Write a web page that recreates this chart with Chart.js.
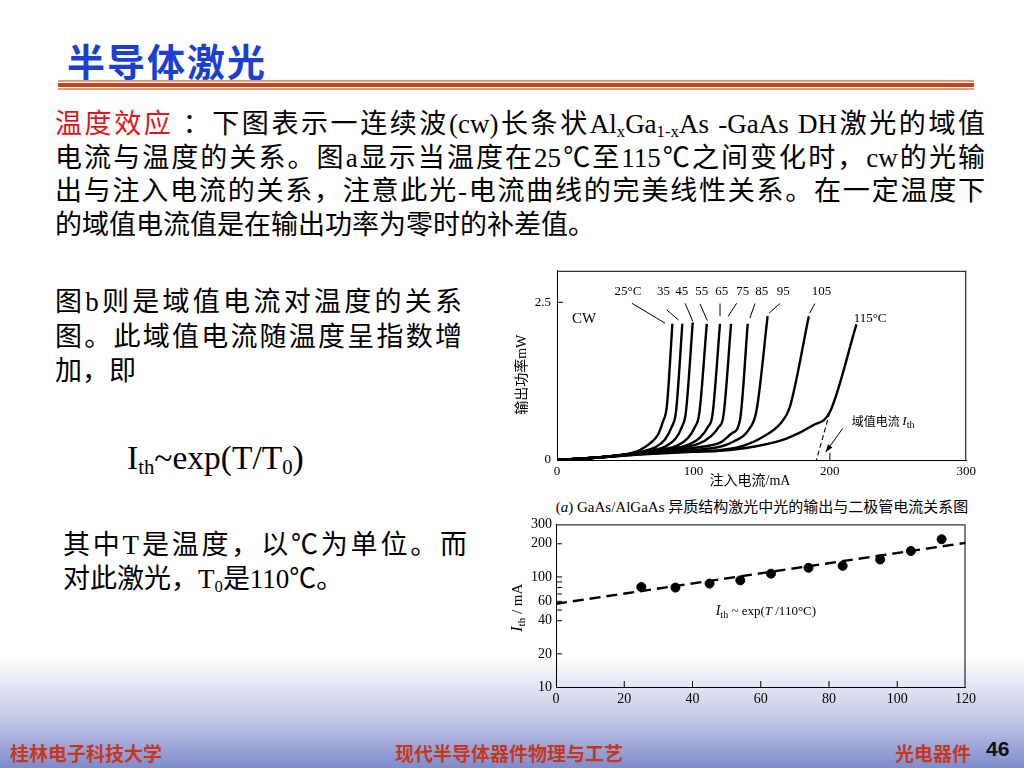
<!DOCTYPE html>
<html>
<head>
<meta charset="utf-8">
<script src="https://cdn.jsdelivr.net/npm/chart.js@4.4.0/dist/chart.umd.min.js"></script>
<style>
  body { margin: 0; }
  #slide {
    position: relative; width: 1024px; height: 768px; overflow: hidden;
    background: #fff; color: #000;
    font-family: "Liberation Serif", "Noto Sans CJK SC", serif;
  }
  .band {
    position: absolute; left: 0; top: 655px; width: 1024px; height: 113px;
    background: linear-gradient(to bottom, rgba(255,255,255,0) 0%, #c6cae7 55%, #7f8bcc 100%);
  }
  .title {
    position: absolute; left: 67px; top: 32px; font-size: 38px; font-weight: bold;
    color: #1c3fd2; letter-spacing: 2px; font-family: "Noto Sans CJK SC", sans-serif;
  }
  .rule { position: absolute; left: 58px; width: 916px; }
  .para { position: absolute; font-size: 27px; }
  .para div { height: 33.6px; line-height: 33.6px; white-space: nowrap; }
  .para .j { text-align: justify; text-align-last: justify; white-space: normal; }
  .red { color: #e0141e; }
  sub { font-size: 0.62em; vertical-align: -0.25em; line-height: 0; }
  .formula { position: absolute; left: 127px; top: 439px; font-size: 33.5px; white-space: nowrap; }
  .caption { position: absolute; left: 552px; top: 495px; width: 420px; text-align: center; font-size: 15px; white-space: nowrap; }
  canvas { position: absolute; }
  .foot { position: absolute; top: 739px; font-size: 19px; font-weight: bold; color: #c5371b;
    font-family: "Noto Sans CJK SC", sans-serif; }
</style>
</head>
<body>
<div id="slide">
  <div class="band"></div>
  <div class="title">半导体激光</div>
  <div class="rule" style="top:80px;height:2px;background:#e39a78"></div>
  <div class="rule" style="top:83px;height:4px;background:#c2441d"></div>
  <div class="rule" style="top:88px;height:2px;background:#e39a78"></div>

  <div class="para" style="left:55px;top:108px;width:930px">
    <div class="j"><span class="red">温度效应</span> ：下图表示一连续波(cw)长条状Al<sub>x</sub>Ga<sub>1-x</sub>As -GaAs DH激光的域值</div>
    <div class="j">电流与温度的关系。图a显示当温度在25℃至115℃之间变化时，cw的光输</div>
    <div class="j">出与注入电流的关系，注意此光-电流曲线的完美线性关系。在一定温度下</div>
    <div>的域值电流值是在输出功率为零时的补差值。</div>
  </div>

  <div class="para" style="left:55px;top:284px;width:407px">
    <div class="j" style="height:36px;line-height:36px">图b则是域值电流对温度的关系</div>
    <div class="j" style="height:34px;line-height:34px">图。此域值电流随温度呈指数增</div>
    <div style="height:34px;line-height:34px">加，即</div>
  </div>

  <div class="formula">I<sub>th</sub>~exp(T/T<sub>0</sub>)</div>

  <div class="para" style="left:63px;top:529px;width:404px">
    <div class="j">其中T是温度，以℃为单位。而</div>
    <div>对此激光，T<sub>0</sub>是110℃。</div>
  </div>

  <canvas id="lcChart" width="480" height="234" style="left:500px;top:257px"></canvas>
  <div class="caption">(<i>a</i>) GaAs/AlGaAs 异质结构激光中光的输出与二极管电流关系图</div>
  <canvas id="ithChart" width="480" height="203" style="left:500px;top:512px"></canvas>

  <div class="foot" style="left:10px">桂林电子科技大学</div>
  <div class="foot" style="left:395px">现代半导体器件物理与工艺</div>
  <div class="foot" style="left:895px">光电器件</div>
  <div class="foot" style="left:986px;color:#111;font-size:21px;font-family:'Liberation Sans Narrow','Liberation Sans',sans-serif;top:737px">46</div>
</div>

<script>
// (a) light output vs injected current, one curve per temperature [mA, mW]
const lcTemps = ["25", "35", "45", "55", "65", "75", "85", "95", "105", "115"];
const lc25 = [[0, 0], [30, 0.04], [50, 0.09], [60, 0.15], [68, 0.26], [74, 0.4], [77.5, 0.6], [80.5, 0.85], [84.6, 2.16]];
const lc35 = [[0, 0], [30, 0.04], [55, 0.1], [65, 0.15], [72, 0.2], [79, 0.32], [84, 0.52], [87.3, 0.78], [91.9, 2.16]];
const lc45 = [[0, 0], [30, 0.04], [60, 0.11], [72, 0.16], [80, 0.22], [87, 0.34], [91.5, 0.52], [94.5, 0.76], [99.5, 2.18]];
const lc55 = [[0, 0], [30, 0.04], [60, 0.11], [78, 0.17], [88, 0.23], [96, 0.35], [101, 0.52], [104.3, 0.74], [109.8, 2.16]];
const lc65 = [[0, 0], [30, 0.04], [60, 0.11], [84, 0.18], [96, 0.24], [105, 0.36], [110.5, 0.52], [114, 0.72], [119.5, 2.16]];
const lc75 = [[0, 0], [30, 0.04], [60, 0.11], [88, 0.19], [103, 0.25], [113, 0.38], [118.5, 0.52], [122, 0.7], [127.6, 2.16]];
const lc85 = [[0, 0], [30, 0.04], [60, 0.11], [95, 0.18], [112, 0.23], [120, 0.28], [128, 0.42], [134.1, 0.63], [139.8, 2.16]];
const lc95 = [[0, 0], [30, 0.04], [60, 0.1], [100, 0.16], [119.5, 0.21], [129.2, 0.29], [140.2, 0.47], [146.3, 0.79], [154.4, 2.28]];
const lc105 = [[0, 0], [30, 0.04], [60, 0.09], [100, 0.14], [119.5, 0.157], [134.1, 0.21], [151.1, 0.37], [164.6, 0.6], [170.7, 0.84], [184.6, 2.28]];
const lc115 = [[0, 0], [30, 0.04], [60, 0.085], [100, 0.13], [119.5, 0.146], [143.8, 0.21], [168.2, 0.34], [187.7, 0.55], [200, 0.76], [219.5, 2.15]];
const lcCurves = [lc25, lc35, lc45, lc55, lc65, lc75, lc85, lc95, lc105, lc115];
// threshold extrapolation of the 115 C curve
const ithExtrap = [[200, 0.76], [190.2, 0]];
const lcXTicks = [0, 100, 200, 300];
const lcYTicks = [0, 2.5];

// (b) threshold current vs temperature
const ithTemps = [25, 35, 45, 54, 63, 74, 84, 95, 104, 113];
const ithValues = [81, 80, 87, 93, 107, 121, 126, 144, 172, 220];
const fitTemps = [0, 120];
const fitValues = [57, 204];
const ithXTicks = [0, 20, 40, 60, 80, 100, 120];
const ithYTicks = [10, 20, 40, 60, 100, 200, 300];
const ithMinorTicks = [50, 70, 80, 90];

// label placement for curve tags (data coordinates)
const tagLayout = [
  { x: 52, y: 2.67, from: [54.9, 2.485], to: [79.2, 2.17] },
  { x: 78, y: 2.67, from: [80.5, 2.38], to: [89.0, 2.22] },
  { x: 91.4, y: 2.67, from: [93.9, 2.485], to: [99.5, 2.2] },
  { x: 106.1, y: 2.67, from: [104.8, 2.476], to: [110.2, 2.21] },
  { x: 120.7, y: 2.67, from: [119.5, 2.48], to: [119.5, 2.28] },
  { x: 136.1, y: 2.67, from: [131.7, 2.485], to: [125.5, 2.28] },
  { x: 150, y: 2.67, from: [145.1, 2.48], to: [141.4, 2.25] },
  { x: 165.8, y: 2.67, from: [163.4, 2.48], to: [155.5, 2.33] },
  { x: 193.9, y: 2.67, from: [189, 2.48], to: [185.3, 2.33] },
  { x: 229.5, y: 2.25 },
];

const serif = "'Liberation Serif', 'Noto Sans CJK SC', serif";
const toXY = (pts) => pts.map((p) => ({ x: p[0], y: p[1] }));

function drawFrame(ctx, area) {
  ctx.save();
  ctx.strokeStyle = "#000";
  ctx.lineWidth = 1;
  ctx.strokeRect(area.left + 0.5, area.top + 0.5, area.width - 1, area.height);
  ctx.restore();
}

// draw text pieces [text, font, dy] one after another
function drawRuns(ctx, runs, x, y) {
  let cx = x;
  runs.forEach((r) => {
    ctx.font = r[1];
    ctx.fillText(r[0], cx, y + (r[2] || 0));
    cx += ctx.measureText(r[0]).width;
  });
  return cx - x;
}

function runsWidth(ctx, runs) {
  let w = 0;
  runs.forEach((r) => {
    ctx.font = r[1];
    w += ctx.measureText(r[0]).width;
  });
  return w;
}

const lcDecor = {
  id: "lcDecor",
  afterDraw(chart) {
    const { ctx, chartArea, scales } = chart;
    const px = (v) => scales.x.getPixelForValue(v);
    const py = (v) => scales.y.getPixelForValue(v);
    drawFrame(ctx, chartArea);
    ctx.save();
    ctx.fillStyle = "#000";
    ctx.strokeStyle = "#000";
    // inward ticks
    ctx.lineWidth = 1;
    ctx.beginPath();
    ctx.moveTo(chartArea.left, py(2.5));
    ctx.lineTo(chartArea.left + 6, py(2.5));
    ctx.moveTo(px(200), chartArea.bottom);
    ctx.lineTo(px(200), chartArea.bottom - 7);
    ctx.stroke();

    // curve tags and leaders
    ctx.textBaseline = "middle";
    ctx.font = "13px " + serif;
    tagLayout.forEach((t, i) => {
      let txt = lcTemps[i];
      if (i === 0 || i === lcTemps.length - 1) txt += "°C";
      ctx.textAlign = "center";
      ctx.fillText(txt, px(t.x), py(t.y));
      if (t.from) {
        ctx.beginPath();
        ctx.moveTo(px(t.from[0]), py(t.from[1]));
        ctx.lineTo(px(t.to[0]), py(t.to[1]));
        ctx.stroke();
      }
    });
    ctx.textAlign = "left";
    ctx.font = "15px " + serif;
    ctx.fillText("CW", px(11), py(2.23));

    // threshold label and arrow
    const lx = px(216), ly = py(0.61);
    drawRuns(ctx, [
      ["域值电流 ", "12px 'Noto Sans CJK SC', sans-serif"],
      ["I", "italic 13px " + serif],
      ["th", "10px " + serif, 4],
    ], lx, ly);
    const ax0 = px(209.4), ay0 = py(0.5), ax1 = px(197), ay1 = py(0.126);
    ctx.beginPath();
    ctx.moveTo(ax0, ay0);
    ctx.lineTo(ax1, ay1);
    ctx.stroke();
    const ang = Math.atan2(ay1 - ay0, ax1 - ax0);
    ctx.beginPath();
    ctx.moveTo(ax1, ay1);
    ctx.lineTo(ax1 - 8 * Math.cos(ang - 0.35), ay1 - 8 * Math.sin(ang - 0.35));
    ctx.lineTo(ax1 - 8 * Math.cos(ang + 0.35), ay1 - 8 * Math.sin(ang + 0.35));
    ctx.closePath();
    ctx.fill();

    // axis titles
    ctx.font = "14px " + serif;
    ctx.textAlign = "center";
    ctx.fillText("注入电流/mA", chartArea.left + 193, chartArea.bottom + 21);
    ctx.translate(chartArea.left - 35, chartArea.top + 104);
    ctx.rotate(-Math.PI / 2);
    ctx.fillText("输出功率mW", 0, 0);
    ctx.restore();
  },
};

const ithDecor = {
  id: "ithDecor",
  afterDraw(chart) {
    const { ctx, chartArea, scales } = chart;
    const px = (v) => scales.x.getPixelForValue(v);
    const py = (v) => scales.y.getPixelForValue(v);
    drawFrame(ctx, chartArea);
    ctx.save();
    ctx.strokeStyle = "#000";
    ctx.fillStyle = "#000";
    ctx.lineWidth = 1;
    ctx.beginPath();
    ithXTicks.slice(1, -1).forEach((v) => {
      ctx.moveTo(px(v), chartArea.bottom);
      ctx.lineTo(px(v), chartArea.bottom - 6);
    });
    ithYTicks.slice(1, -1).forEach((v) => {
      ctx.moveTo(chartArea.left, py(v));
      ctx.lineTo(chartArea.left + 6, py(v));
    });
    ithMinorTicks.forEach((v) => {
      ctx.moveTo(chartArea.left, py(v));
      ctx.lineTo(chartArea.left + 6, py(v));
    });
    ctx.stroke();

    ctx.textBaseline = "middle";
    ctx.textAlign = "left";
    drawRuns(ctx, [
      ["I", "italic 14px " + serif],
      ["th", "10px " + serif, 4],
      [" ~ exp(", "13px " + serif],
      ["T", "italic 13px " + serif],
      [" /110°C)", "13px " + serif],
    ], px(46.8), py(48.8));

    // rotated y title
    const runs = [
      ["I", "italic 16px " + serif],
      ["th", "11px " + serif, 4],
      [" / mA", "15px " + serif],
    ];
    ctx.translate(chartArea.left - 38, (chartArea.top + chartArea.bottom) / 2 + 2);
    ctx.rotate(-Math.PI / 2);
    drawRuns(ctx, runs, -runsWidth(ctx, runs) / 2, 0);
    ctx.restore();
  },
};

const tickFont = { family: serif, size: 13 };

new Chart(document.getElementById("lcChart"), {
  type: "line",
  data: {
    datasets: lcCurves.map((c, i) => ({
      label: lcTemps[i],
      data: toXY(c),
      borderColor: "#000",
      borderWidth: 2.4,
      pointRadius: 0,
      cubicInterpolationMode: "monotone",
    })).concat([{
      label: "Ith",
      data: toXY(ithExtrap),
      borderColor: "#000",
      borderWidth: 1.1,
      borderDash: [5, 3],
      pointRadius: 0,
    }]),
  },
  options: {
    responsive: false,
    animation: false,
    layout: { padding: { left: 0, right: 13, top: 0, bottom: 0 } },
    plugins: { legend: { display: false }, tooltip: { enabled: false } },
    scales: {
      x: {
        type: "linear", min: 0, max: 300,
        afterBuildTicks: (s) => { s.ticks = lcXTicks.map((v) => ({ value: v })); },
        afterFit: (s) => { s.height = 31; },
        grid: { display: false, drawTicks: false },
        border: { color: "#000", width: 1 },
        ticks: { color: "#000", font: tickFont, padding: 4, maxRotation: 0 },
      },
      y: {
        min: 0, max: 3,
        afterBuildTicks: (s) => { s.ticks = lcYTicks.map((v) => ({ value: v })); },
        afterFit: (s) => { s.width = 57; },
        grid: { display: false, drawTicks: false },
        border: { color: "#000", width: 1 },
        ticks: { color: "#000", font: tickFont, padding: 6 },
      },
    },
  },
  plugins: [lcDecor],
});

new Chart(document.getElementById("ithChart"), {
  type: "scatter",
  data: {
    datasets: [
      {
        label: "Ith",
        data: ithTemps.map((t, i) => ({ x: t, y: ithValues[i] })),
        backgroundColor: "#000",
        borderColor: "#000",
        pointRadius: 4.5,
      },
      {
        type: "line",
        label: "fit",
        data: fitTemps.map((t, i) => ({ x: t, y: fitValues[i] })),
        borderColor: "#000",
        borderWidth: 2.4,
        borderDash: [11, 6],
        pointRadius: 0,
      },
    ],
  },
  options: {
    responsive: false,
    animation: false,
    layout: { padding: { left: 0, right: 13, top: 0, bottom: 0 } },
    plugins: { legend: { display: false }, tooltip: { enabled: false } },
    scales: {
      x: {
        type: "linear", min: 0, max: 120,
        afterBuildTicks: (s) => { s.ticks = ithXTicks.map((v) => ({ value: v })); },
        afterFit: (s) => { s.height = 28; },
        grid: { display: false, drawTicks: false },
        border: { color: "#000", width: 1 },
        ticks: { color: "#000", font: { family: serif, size: 14 }, padding: 4, maxRotation: 0 },
      },
      y: {
        type: "logarithmic", min: 10, max: 300,
        afterBuildTicks: (s) => { s.ticks = ithYTicks.map((v) => ({ value: v })); },
        afterFit: (s) => { s.width = 56; },
        grid: { display: false, drawTicks: false },
        border: { color: "#000", width: 1 },
        ticks: { color: "#000", font: { family: serif, size: 14 }, padding: 4, callback: (v) => String(v) },
      },
    },
  },
  plugins: [ithDecor],
});
</script>
</body>
</html>
